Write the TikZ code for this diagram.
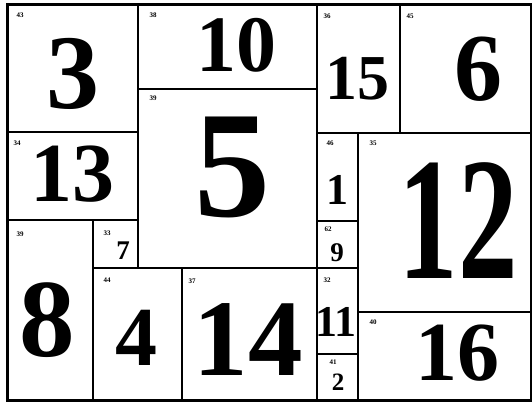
\documentclass[tikz,border=0pt]{standalone}
\usepackage{fontspec}
\setmainfont{Liberation Serif}
\newcommand{\fsz}[1]{\fontsize{#1}{#1}\selectfont\bfseries}
\begin{document}
\begin{tikzpicture}[x=1pt,y=-1pt,
  sq/.style={draw=black,line width=2pt},
  big/.style={inner sep=0pt,anchor=center,text=black},
  tag/.style={inner sep=0pt,anchor=center,font=\fontsize{7}{7}\selectfont\bfseries}]
\useasboundingbox (0,0) rectangle (532,403);
% squares
\draw[sq] (7,5) rectangle (138,132);
\draw[sq] (138,5) rectangle (317,89);
\draw[sq] (317,5) rectangle (400,133);
\draw[sq] (400,5) rectangle (531,133);
\draw[sq] (7,132) rectangle (138,220);
\draw[sq] (138,89) rectangle (317,268);
\draw[sq] (317,133) rectangle (358,221);
\draw[sq] (358,133) rectangle (531,312);
\draw[sq] (317,221) rectangle (358,268);
\draw[sq] (7,220) rectangle (93,400);
\draw[sq] (93,220) rectangle (138,268);
\draw[sq] (93,268) rectangle (182,400);
\draw[sq] (182,268) rectangle (317,400);
\draw[sq] (317,268) rectangle (358,354);
\draw[sq] (317,354) rectangle (358,400);
\draw[sq] (358,312) rectangle (531,400);
\draw[line width=3pt] (7,5) rectangle (531,400);
% big numbers
\node[big,font=\fsz{106}] (n3) at (73,74) {3};
\node[big,font=\fsz{80}] (n10) at (236,45) {10};
\node[big,font=\fsz{64}] (n15) at (357,79) {15};
\node[big,font=\fsz{96}] (n6) at (478,69) {6};
\node[big,font=\fsz{84}] (n13) at (72,174) {13};
\node[big,font=\fsz{152}] (n5) at (232,167) {5};
\node[big,font=\fsz{44}] (n1) at (337,190) {1};
\node[big,font=\fsz{175}] (n12) at (458,221) {\scalebox{0.68}[1]{12}};
\node[big,font=\fsz{27}] (n9) at (337,253) {9};
\node[big,font=\fsz{27}] (n7) at (123,251) {7};
\node[big,font=\fsz{111}] (n8) at (47,320) {8};
\node[big,font=\fsz{84}] (n4) at (136,338) {4};
\node[big,font=\fsz{109}] (n14) at (248,340) {14};
\node[big,font=\fsz{44}] (n11) at (336,322) {11};
\node[big,font=\fsz{25}] (n2) at (338,382) {2};
\node[big,font=\fsz{84}] (n16) at (457,353) {16};
% small tags
\node[tag] (t43) at (20,15) {43};
\node[tag] (t38) at (153,15) {38};
\node[tag] (t36) at (327,16) {36};
\node[tag] (t45) at (410,16) {45};
\node[tag] (t34) at (17,143) {34};
\node[tag] (t39a) at (153,98) {39};
\node[tag] (t46) at (330,143) {46};
\node[tag] (t35) at (373,143) {35};
\node[tag] (t62) at (328,229) {62};
\node[tag] (t33) at (107,233) {33};
\node[tag] (t39b) at (20,234) {39};
\node[tag] (t44) at (107,280) {44};
\node[tag] (t37) at (192,281) {37};
\node[tag] (t32) at (327,280) {32};
\node[tag] (t41) at (333,362) {41};
\node[tag] (t40) at (373,322) {40};
\end{tikzpicture}
\end{document}
